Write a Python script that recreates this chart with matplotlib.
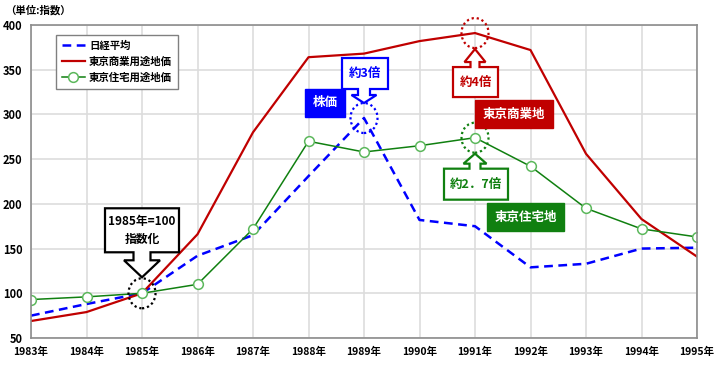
import matplotlib
matplotlib.use("Agg")
import matplotlib.pyplot as plt
from matplotlib.patches import Polygon, Ellipse
from matplotlib.transforms import Affine2D, ScaledTranslation

plt.rcParams['font.family'] = ['Noto Sans CJK JP', 'DejaVu Sans']
plt.rcParams['font.weight'] = 'bold'

years = list(range(1983, 1996))
year_labels = [f"{y}年" for y in years]
nikkei = [75, 88, 100, 142, 165, 231, 296, 182, 175, 129, 133, 150, 151]
commercial = [69, 79, 100, 166, 280, 364, 368, 382, 391, 372, 256, 183, 141]
residential = [93, 96, 100, 110, 172, 270, 258, 265, 274, 242, 195, 172, 163]
yticks = [50, 100, 150, 200, 250, 300, 350, 400]

BLUE = '#0000FF'
RED = '#C00000'
GREEN = '#108010'

fig = plt.figure(figsize=(7.14, 3.65), dpi=100)
ax = fig.add_axes([31/714, 1-338/365, 666/714, 313/365])
ax.set_xlim(1983, 1995)
ax.set_ylim(50, 400)
ax.set_xticks(years)
ax.set_xticklabels(year_labels)
ax.set_yticks(yticks)
ax.grid(True, color='#DDDDDD', linewidth=1.2)
ax.set_axisbelow(True)
for s in ax.spines.values():
    s.set_color('#8C8C8C')
    s.set_linewidth(1.2)
ax.tick_params(length=0, labelsize=8, pad=6)
ax.tick_params(axis='x', labelsize=7.5)
for lab in ax.get_xticklabels() + ax.get_yticklabels():
    lab.set_fontweight('bold')

ax.plot(years, nikkei, color=BLUE, linestyle=(0, (3.5, 2.2)), linewidth=1.8, label='日経平均')
ax.plot(years, commercial, color=RED, linewidth=1.6, label='東京商業用途地価')
ax.plot(years, residential, color=GREEN, linewidth=1.1, marker='o', markersize=7,
        markerfacecolor='white', markeredgecolor='#5CB85C', markeredgewidth=1.1,
        label='東京住宅用途地価')

leg = ax.legend(loc='upper left', bbox_to_anchor=(20/666, 1-5/313), fontsize=7.5,
                frameon=True, fancybox=False, edgecolor='#808080', framealpha=1,
                handlelength=2.2, borderpad=0.55, labelspacing=0.55, handletextpad=0.4)
leg.get_frame().set_linewidth(1.0)

fig.text(5/714, 1-10/365, '（単位:指数）', fontsize=7.5, fontweight='bold', va='center', ha='left')


def px_trans(x, y):
    return Affine2D() + ScaledTranslation(x, y, ax.transData)


def callout(x, y, tip, shoulder, neck_end, top, head, neck, left, right, text, color, fs=9):
    verts = [(0, tip), (head, shoulder), (neck, shoulder), (neck, neck_end),
             (right, neck_end), (right, top), (left, top), (left, neck_end),
             (-neck, neck_end), (-neck, shoulder), (-head, shoulder)]
    tr = px_trans(x, y)
    poly = Polygon(verts, closed=True, facecolor='white', edgecolor=color,
                   linewidth=1.6, transform=tr, clip_on=False, zorder=5)
    ax.add_patch(poly)
    ax.text((left + right) / 2, (neck_end + top) / 2, text, transform=tr, color=color,
            ha='center', va='center', fontsize=fs, fontweight='bold', zorder=6,
            linespacing=1.5)


def circle(x, y, color):
    e = Ellipse((0, 0), 27, 30, transform=px_trans(x, y), fill=False, edgecolor=color,
                linestyle=(0, (1, 1.3)), linewidth=1.6, clip_on=False, zorder=4)
    ax.add_patch(e)


def label_box(x, y, text, color):
    ax.text(x, y, text, color='white', ha='center', va='center', fontsize=9,
            fontweight='bold', zorder=6,
            bbox=dict(boxstyle='square,pad=0.6', facecolor=color, edgecolor=color))


# 1985 base
circle(1985, 100, 'black')
callout(1985, 100, 16, 33, 41, 85, 18, 8.5, -37, 37, '1985年=100\n指数化', 'black', fs=8.5)

# Nikkei peak
circle(1989, nikkei[6], BLUE)
callout(1989, nikkei[6], 15, 23, 29, 60, 12.5, 6, -22, 24, '約3倍', BLUE)
label_box(1988.30, 313, '株価', BLUE)

# Commercial peak
circle(1991, commercial[8], RED)
callout(1991, commercial[8], -16, -29, -34, -64, 10.5, 4.5, -22, 23, '約4倍', RED)
label_box(1991.70, 300, '東京商業地', RED)

# Residential peak
circle(1991, residential[8], GREEN)
callout(1991, residential[8], -16, -26, -31, -62, 11.5, 5.5, -31, 33, '約2．7倍', GREEN)
label_box(1991.91, 185, '東京住宅地', GREEN)

fig.savefig('out.png', dpi=100)
